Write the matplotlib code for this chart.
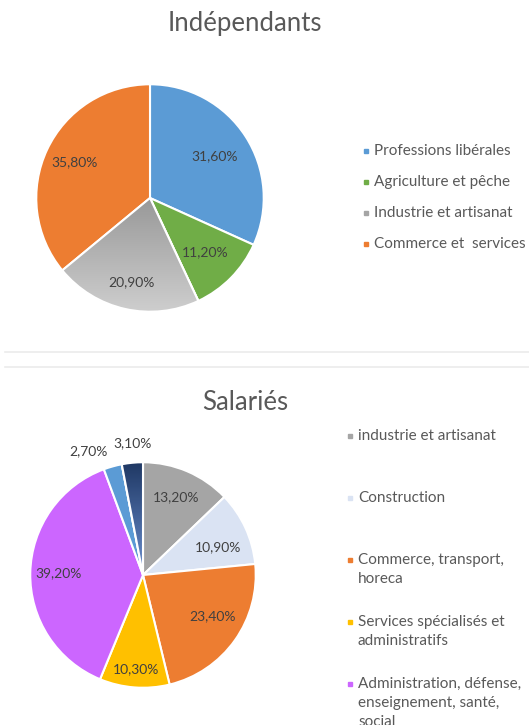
import numpy as np
import matplotlib
matplotlib.use('Agg')
import matplotlib.pyplot as plt
from matplotlib.lines import Line2D

plt.rcParams['font.family'] = ['Lato', 'DejaVu Sans']

# ---- data ----
ind_title  = 'Indépendants'
ind_labels = ['Professions libérales', 'Agriculture et pêche',
              'Industrie et artisanat', 'Commerce et  services']
ind_values = [31.6, 11.2, 20.9, 35.8]

sal_title  = 'Salariés'
sal_labels = ['industrie et artisanat', 'Construction',
              'Commerce, transport,\nhoreca',
              'Services spécialisés et\nadministratifs',
              'Administration, défense,\nenseignement, santé,\nsocial']
sal_values = [13.2, 10.9, 23.4, 10.3, 39.2, 2.7, 3.1]

# ---- styles ----
ind_colors = ['#5B9BD5', '#70AD47', '#A5A5A5', '#ED7D31']
sal_colors = ['#A5A5A5', '#DAE3F3', '#ED7D31', '#FFC000', '#CC66FF', '#5B9BD5', '#264478']
ind_label_r = [0.68, 0.68, 0.76, 0.73]
ind_label_dth = [0, 0, 0, 0]
sal_label_r = [0.75, 0.71, 0.72, 0.84, 0.75, 1.20, 1.17]
sal_label_dth = [0, -4, 5, 0, 0, 8, -1]

TXT = '#595959'
LBL = '#404040'
W, H = 529, 725


def fx(px):
    return px / W


def fy(py):
    return 1 - py / H


def pie_axes(fig, cx, cy, r):
    ax = fig.add_axes([fx(cx - r), fy(cy + r), 2 * r / W, 2 * r / H])
    return ax


def gradient(ax, wedge, c0, c1):
    # vertical gradient clipped to a wedge
    v = wedge.get_path().vertices
    y0, y1 = v[:, 1].min(), v[:, 1].max()
    x0, x1 = v[:, 0].min(), v[:, 0].max()
    c0 = np.array(matplotlib.colors.to_rgb(c0))
    c1 = np.array(matplotlib.colors.to_rgb(c1))
    t = np.linspace(0, 1, 100)[:, None]
    img = (c0 * (1 - t) + c1 * t)[:, None, :]
    im = ax.imshow(img, extent=[x0, x1, y0, y1], origin='upper',
                   aspect='auto', zorder=wedge.get_zorder() + 0.1)
    im.set_clip_path(wedge)
    wedge.set_facecolor('none')
    ax.add_patch(matplotlib.patches.Wedge(wedge.center, wedge.r, wedge.theta1, wedge.theta2,
                                          facecolor='none', edgecolor='white', linewidth=1.5,
                                          zorder=wedge.get_zorder() + 0.2))


def draw_pie(ax, values, colors, label_r, label_dth):
    wedges, _ = ax.pie(values, colors=colors, startangle=90, counterclock=False,
                       radius=1, wedgeprops=dict(edgecolor='white', linewidth=1.5))
    for w, v, r, dth in zip(wedges, values, label_r, label_dth):
        th = np.deg2rad((w.theta1 + w.theta2) / 2 + dth)
        ax.text(r * np.cos(th), r * np.sin(th), f'{v:.2f}'.replace('.', ',') + '%',
                ha='center', va='center', fontsize=10, color=LBL, zorder=10)
    ax.set_xlim(-1.02, 1.02)
    ax.set_ylim(-1.02, 1.02)
    ax.set_aspect('equal')
    ax.axis('off')
    return wedges


def legend_entry(fig, x, y, color, label, line_h=19):
    fig.add_artist(Line2D([fx(x)], [fy(y)], marker='s', markersize=3.4,
                          color=color, linestyle='none'))
    for k, line in enumerate(label.split('\n')):
        fig.text(fx(x + 8), fy(y + k * line_h), line, ha='left', va='center',
                 fontsize=11, color=TXT)


fig = plt.figure(figsize=(W / 100, H / 100), dpi=100)

# ---- Indépendants ----
ax1 = pie_axes(fig, 150, 198, 116)
w1 = draw_pie(ax1, ind_values, ind_colors, ind_label_r, ind_label_dth)
gradient(ax1, w1[2], '#989898', '#CFCFCF')
fig.text(fx(245), fy(24), ind_title, ha='center', va='center', fontsize=18.5, color=TXT)

for i, lab in enumerate(ind_labels):
    legend_entry(fig, 366, 151 + i * 31, ind_colors[i], lab)

# separators
for y in (352, 367):
    fig.add_artist(Line2D([fx(5), 1], [fy(y), fy(y)], color='#EBEBEB', linewidth=1.2))

# ---- Salariés ----
ax2 = pie_axes(fig, 143, 575, 115)
w2 = draw_pie(ax2, sal_values, sal_colors, sal_label_r, sal_label_dth)
gradient(ax2, w2[6], '#1F3864', '#6A8FD0')
fig.text(fx(245), fy(402), sal_title, ha='center', va='center', fontsize=18.5, color=TXT)

for i, lab in enumerate(sal_labels):
    legend_entry(fig, 350, 436 + i * 62, sal_colors[i], lab)

fig.savefig('out.png', dpi=100)
